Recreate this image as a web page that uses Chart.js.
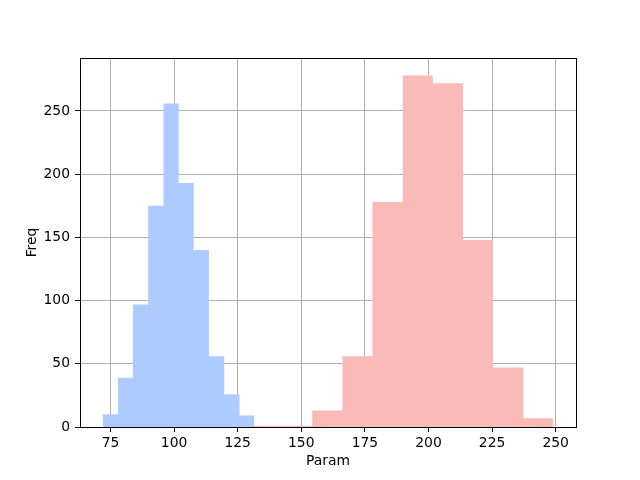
<!DOCTYPE html>
<html>
<head>
<meta charset="utf-8">
<script src="https://cdn.jsdelivr.net/npm/chart.js@4"></script>
<style>
  body { margin: 0; background: #fff; }
  #wrap { width: 640px; height: 480px; }
</style>
</head>
<body>
<div id="wrap"><canvas id="myChart" width="640" height="480"></canvas></div>
<script>
const blueEdges = [71.9, 77.9, 83.8, 89.8, 95.8, 101.8, 107.7, 113.7, 119.7, 125.7, 131.6];
const blueCounts = [10, 39, 97, 175, 256, 193, 140, 56, 26, 9];
const redEdges = [130.6, 142.5, 154.3, 166.2, 178.0, 189.9, 201.7, 213.6, 225.4, 237.3, 249.1];
const redCounts = [1, 1, 13, 56, 178, 278, 272, 148, 47, 7];
const xTicks = [75, 100, 125, 150, 175, 200, 225, 250];
const yTicks = [0, 50, 100, 150, 200, 250];

// histogram as a stepped filled line: each edge holds the count of its bin
function steps(edges, counts) {
    return edges.map((e, i) => ({ x: e, y: counts[Math.min(i, counts.length - 1)] }));
}

const frame = {
    id: 'frame',
    afterDraw(chart) {
        const a = chart.chartArea, c = chart.ctx;
        c.save();
        c.strokeStyle = '#000';
        c.lineWidth = 1;
        c.strokeRect(Math.round(a.left) + 0.5, Math.round(a.top) + 0.5, Math.round(a.right - a.left), Math.round(a.bottom - a.top));
        c.restore();
    }
};

const font = { family: 'DejaVu Sans', size: 13.9 };

new Chart(document.getElementById('myChart'), {
    type: 'line',
    data: {
        datasets: [{
            label: 'A',
            data: steps(blueEdges, blueCounts),
            stepped: 'before',
            fill: 'origin',
            backgroundColor: 'rgb(174, 203, 255)',
            borderColor: 'rgba(0,0,0,0)',
            borderWidth: 0,
            pointRadius: 0,
        },
        {
            label: 'B',
            data: steps(redEdges, redCounts),
            stepped: 'before',
            fill: 'origin',
            backgroundColor: 'rgb(250, 186, 183)',
            borderColor: 'rgba(0,0,0,0)',
            borderWidth: 0,
            pointRadius: 0,
        }]
    },
    options: {
        responsive: false,
        animation: false,
        devicePixelRatio: 1,
        layout: { padding: { top: 58, right: 64, left: 0, bottom: 0 } },
        plugins: {
            legend: { display: false },
            tooltip: { enabled: false },
        },
        scales: {
            x: {
                type: 'linear',
                min: 63.0,
                max: 258.0,
                z: 1,
                afterBuildTicks: s => { s.ticks = xTicks.map(v => ({ value: v })); },
                afterFit: s => { s.height = 53; },
                border: { display: false },
                grid: { color: '#b0b0b0', lineWidth: 1, tickColor: '#000', tickLength: 5 },
                ticks: { color: '#000', font: font, padding: 3, maxRotation: 0 },
                title: { display: true, text: 'Param', color: '#000', font: font, padding: { top: 0, bottom: 10 } },
            },
            y: {
                type: 'linear',
                min: 0,
                max: 291.9,
                z: 1,
                afterBuildTicks: s => { s.ticks = yTicks.map(v => ({ value: v })); },
                afterFit: s => { s.width = 80; },
                border: { display: false },
                grid: { color: '#b0b0b0', lineWidth: 1, tickColor: '#000', tickLength: 5 },
                ticks: { color: '#000', font: font, padding: 5 },
                title: { display: true, text: 'Freq', color: '#000', font: font, padding: { top: 24, bottom: 0 } },
            }
        }
    },
    plugins: [frame]
});
</script>
</body>
</html>
